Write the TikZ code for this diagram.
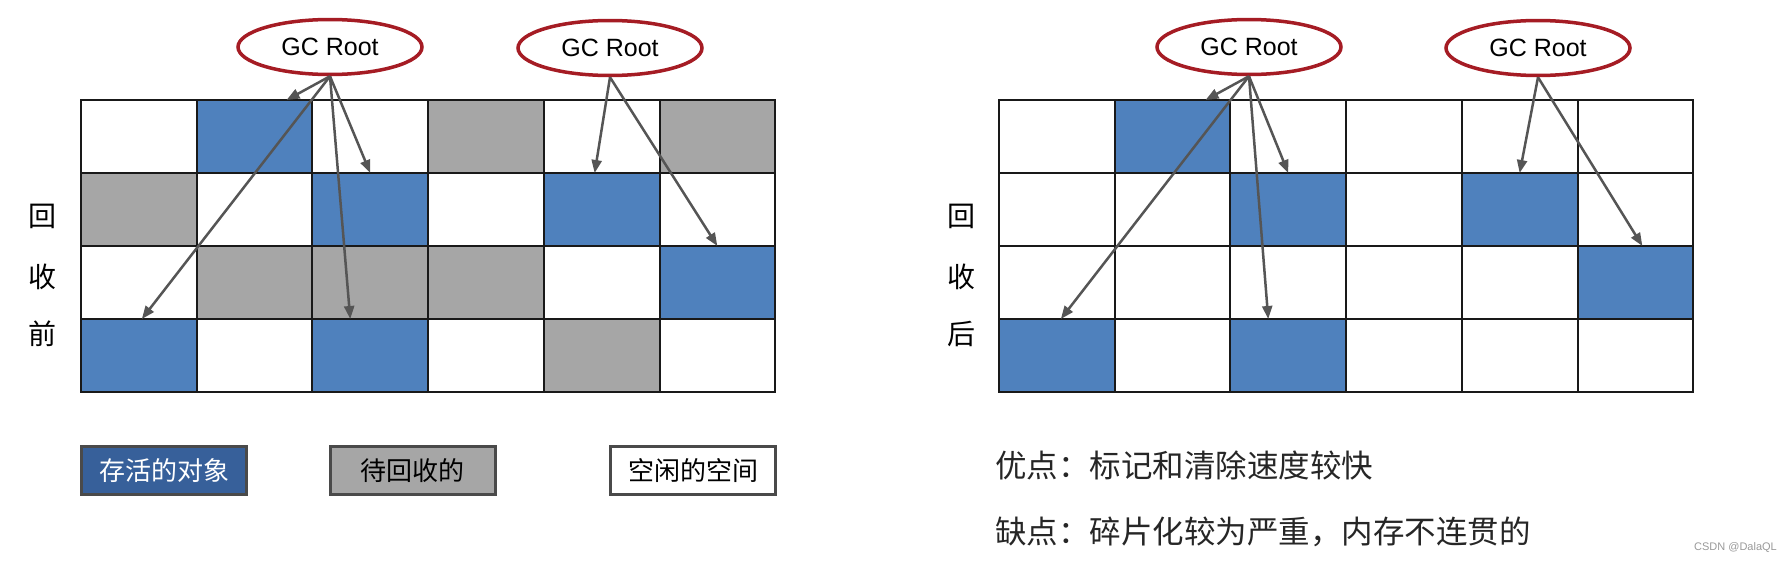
\documentclass[tikz,border=0pt]{standalone}
\usepackage{fontspec}
\setmainfont{Liberation Sans}
\newfontfamily\cjk{Noto Sans CJK SC}
\usepackage{xcolor}
\usepackage{tikz}
\usetikzlibrary{positioning,shapes.geometric,arrows.meta}

\definecolor{liveblue}{HTML}{4F81BD}
\definecolor{deadgray}{HTML}{A6A6A6}
\definecolor{rootred}{HTML}{A51C24}
\definecolor{arrowgray}{HTML}{555555}
\definecolor{legendblue}{HTML}{37609A}
\definecolor{boxline}{HTML}{4A4A4A}

\begin{document}
\begin{tikzpicture}[x=1pt,y=-1pt,
  cell/.style={draw=black!90,line width=2pt,minimum width=115.7pt,minimum height=73pt,inner sep=0pt,outer sep=0pt},
  cw/.style={fill=white},
  cb/.style={fill=liveblue},
  cg/.style={fill=deadgray},
  root/.style={ellipse,draw=rootred,line width=3.5pt,fill=white,minimum width=184pt,minimum height=55pt,inner sep=0pt,font=\fontsize{25}{30}\selectfont},
  ref/.style={draw=arrowgray,line width=2.5pt,-{Triangle[length=13pt,width=10pt]}},
  side/.style={inner sep=0pt,font=\cjk\fontsize{28}{30}\selectfont},
  legend/.style={draw=boxline,line width=3pt,minimum width=165pt,minimum height=48pt,inner sep=0pt,font=\cjk\fontsize{26}{30}\selectfont},
  note/.style={anchor=west,inner sep=0pt,text=black!85,font=\cjk\fontsize{31.5}{36}\selectfont}]
\useasboundingbox (0,0) rectangle (1791,562);

% before collection
\foreach \r/\cols in {0/{cw,cb,cw,cg,cw,cg},1/{cg,cw,cb,cw,cb,cw},2/{cw,cg,cg,cg,cw,cb},3/{cb,cw,cb,cw,cg,cw}}
  \foreach \c [count=\k from 0] in \cols
    \node[cell,\c] (L\r\k) at (81+115.7*\k+57.85,100+73*\r+36.5) {};
\node[root] (gcL1) at (330,47) {GC Root};
\node[root] (gcL2) at (610,48) {GC Root};
\draw[ref] (gcL1.south) -- ([xshift=32pt]L01.north);
\draw[ref] (gcL1.south) -- ([xshift=3pt]L30.north);
\draw[ref] (gcL1.south) -- (L12.north);
\draw[ref] (gcL1.south) -- ([xshift=-20pt]L32.north);
\draw[ref] (gcL2.south) -- ([xshift=-7pt]L14.north);
\draw[ref] (gcL2.south) -- (L25.north);
\node[side] (befA) at (42,216) {回};
\node[side] (befB) at (42,277) {收};
\node[side] (befC) at (42,334) {前};

% after collection
\foreach \r/\cols in {0/{cw,cb,cw,cw,cw,cw},1/{cw,cw,cb,cw,cb,cw},2/{cw,cw,cw,cw,cw,cb},3/{cb,cw,cb,cw,cw,cw}}
  \foreach \c [count=\k from 0] in \cols
    \node[cell,\c] (R\r\k) at (999+115.7*\k+57.85,100+73*\r+36.5) {};
\node[root] (gcR1) at (1249,47) {GC Root};
\node[root] (gcR2) at (1538,48) {GC Root};
\draw[ref] (gcR1.south) -- ([xshift=33pt]R01.north);
\draw[ref] (gcR1.south) -- ([xshift=4pt]R30.north);
\draw[ref] (gcR1.south) -- (R12.north);
\draw[ref] (gcR1.south) -- ([xshift=-20pt]R32.north);
\draw[ref] (gcR2.south) -- (R14.north);
\draw[ref] (gcR2.south) -- ([xshift=7pt]R25.north);
\node[side] (aftA) at (961,216) {回};
\node[side] (aftB) at (961,277) {收};
\node[side] (aftC) at (961,334) {后};

% legend and notes
\node[legend,fill=legendblue,text=white] (lgLive) at (164,470.5) {存活的对象};
\node[legend,fill=deadgray] (lgDead) at (412.5,470.5) {待回收的};
\node[legend,fill=white] (lgFree) at (693,470.5) {空闲的空间};
\node[note] (pros) at (995,465) {优点：标记和清除速度较快};
\node[note] (cons) at (995,532) {缺点：碎片化较为严重，内存不连贯的};
\node[anchor=east,inner sep=0pt,text=black!40,font=\fontsize{11}{12}\selectfont] (mark) at (1777,548) {CSDN @DalaQL};
\end{tikzpicture}
\end{document}
